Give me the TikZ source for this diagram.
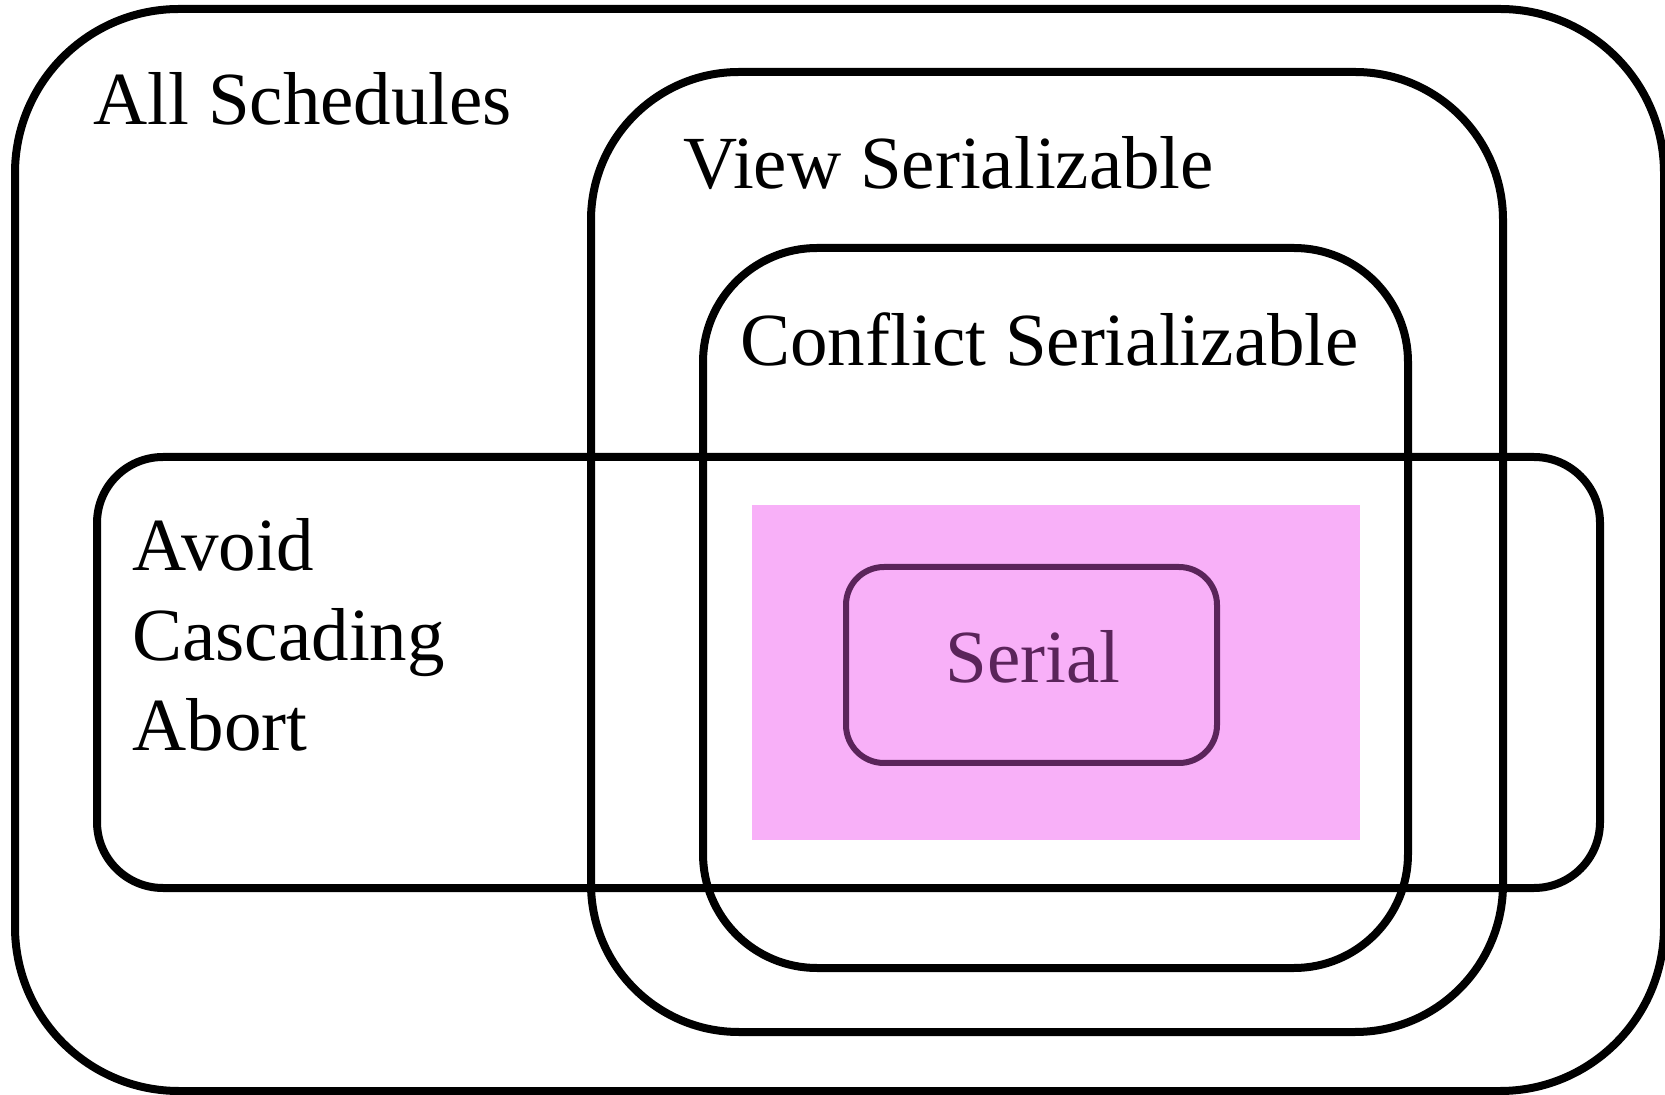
\documentclass[tikz,border=0pt]{standalone}
\usepackage{fontspec}
\setmainfont{Liberation Serif}
\definecolor{pinkfill}{RGB}{248,176,248}
\definecolor{serialc}{RGB}{90,36,90}
\begin{document}
\begin{tikzpicture}[x=0.5pt,y=-0.5pt,
  setbox/.style={draw=black,line width=4pt},
  lbl/.style={anchor=base west,inner sep=0pt,font=\fontsize{37.5}{45}\selectfont}]
\useasboundingbox (0,0) rectangle (1665,1095);
% pink region
\fill[pinkfill] (752,505) rectangle (1360,840);
% sets
\draw[setbox,rounded corners=82pt] (15,9) rectangle (1664,1091);
\draw[setbox,rounded corners=74pt] (591,72) rectangle (1503,1032);
\draw[setbox,rounded corners=57pt] (703,248) rectangle (1408,968);
\draw[setbox,rounded corners=33pt] (97,457) rectangle (1600,888);
\draw[draw=serialc,line width=3pt,rounded corners=19pt] (846,567) rectangle (1217,763);
% labels
\node[lbl] (all) at (93,125) {All Schedules};
\node[lbl] (view) at (683,189) {View Serializable};
\node[lbl] (conf) at (740,366) {Conflict Serializable};
\node[lbl,align=left] (aca) at (132,751) {Avoid\\Cascading\\Abort};
\node[lbl,text=serialc] (serial) at (945,683) {Serial};
\end{tikzpicture}
\end{document}
